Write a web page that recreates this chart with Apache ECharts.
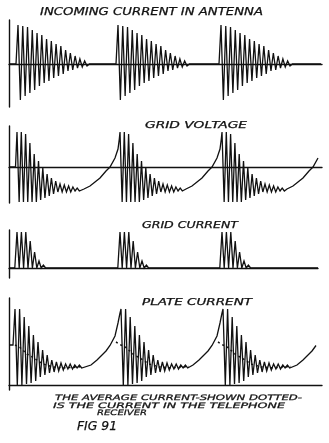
<!DOCTYPE html>
<html><head><meta charset="utf-8">
<script src="https://cdn.jsdelivr.net/npm/echarts@6/dist/echarts.min.js"></script>
<style>html,body{margin:0;padding:0;background:#fff}#c{width:329px;height:443px}</style>
</head><body><div id="c"></div>
<script>
// ---------------- DATA (time units along the horizontal axis, amplitude in drawing units) ----------------
// Incoming current in antenna: three damped wave trains
const antennaStarts = [9, 109, 212];
const antennaHalfPeriod = 2.38;
const antennaTops = [39, 38, 37, 34, 31, 29, 25, 23, 20, 18, 14, 11, 8, 5, 3];
const antennaBottoms = [-36, -32, -29, -26, -22, -19, -17, -14, -12, -10, -7, -6, -4, -3, -2];

// Grid voltage: oscillation drifting negative, then recovering (curve relative to next train start)
const gridVStarts = [8, 111, 213];
const gridVHalfPeriod = 2.15;
const gridVTops = [35, 35, 33, 24, 13, 6, -1, -7, -11, -14, -17, -18, -19, -20, -21];
const gridVBottoms = [-35, -35, -35, -35, -35, -33, -31, -29, -27, -25, -25, -25, -25, -24, -24];
const gridVRecovery = [[-36, -22], [-30, -19], [-20, -11], [-14, -4], [-10, 0], [-5, 9], [-2, 18], [-0.7, 28]];
const gridVLastGap = 101;
const gridVEnd = 309;

// Grid current: rectified pulses
const gridIStarts = [8, 111, 213];
const gridIHalfPeriod = 2.2;
const gridIPeaks = [36, 36, 36, 27, 16, 7, 3];

// Plate current
const plateSteady = 40;
const plateStarts = [6, 112, 214];
const plateHalfPeriod = 2.3;
const plateTops = [76, 76, 68, 59, 50, 43, 35, 30, 25, 23, 22, 21, 21, 20, 20];
const plateBottoms = [0, 0, 1, 2, 4, 8, 10, 12, 13, 14, 15, 16, 16, 17, 17];
const plateRecovery = [[-30, 20], [-24, 25], [-20, 29], [-15, 34], [-11, 39.5], [-6, 49], [-3, 62], [-1.2, 71]];
const plateAverage = [[-5, 43], [0, 40], [5, 37.5], [12, 31], [18, 27.5], [28, 21], [38, 18], [48, 17.3], [58, 17.5], [68, 18.5]];
const plateLastGap = 104;
const plateEnd = 309;

// Text
const titleAntenna = 'INCOMING CURRENT IN ANTENNA';
const titleGridV = 'GRID VOLTAGE';
const titleGridI = 'GRID CURRENT';
const titlePlate = 'PLATE CURRENT';
const captionLines = ['THE AVERAGE CURRENT-SHOWN DOTTED-', 'IS THE CURRENT IN THE TELEPHONE', 'RECEIVER'];
const figLabel = 'FIG 91';

// ---------------- BUILD ----------------
function zig(s, h, tops, bottoms) {
  const p = [];
  for (let i = 0; i < tops.length; i++) {
    p.push([s + 2 * h * i, tops[i]]);
    if (i < bottoms.length) p.push([s + h + 2 * h * i, bottoms[i]]);
  }
  return p;
}

// antenna
let ant = [[0, 0]];
antennaStarts.forEach(s => {
  ant.push([s - 2, 0]);
  ant = ant.concat(zig(s, antennaHalfPeriod, antennaTops, antennaBottoms));
  ant.push([s + 2 * antennaHalfPeriod * antennaTops.length, 0]);
});
ant.push([312, 0]);

// grid voltage
let gv = [[0, 0], [gridVStarts[0] - 1.5, 0]];
gridVStarts.forEach((s, k) => {
  gv = gv.concat(zig(s, gridVHalfPeriod, gridVTops, gridVBottoms));
  const N = k + 1 < gridVStarts.length ? gridVStarts[k + 1] : s + gridVLastGap;
  gridVRecovery.forEach(([dt, v]) => { if (N + dt <= gridVEnd) gv.push([N + dt, v]); });
});

// grid current
let gi = [[0, 0]];
gridIStarts.forEach(s => {
  const h = gridIHalfPeriod;
  gridIPeaks.forEach((p, i) => { gi.push([s - h + 2 * h * i, 0]); gi.push([s + 2 * h * i, p]); });
  gi.push([s + h + 2 * h * (gridIPeaks.length - 1), 0]);
});
gi.push([309, 0]);

// plate current
let pc = [[0, plateSteady], [plateStarts[0] - 2, plateSteady]];
plateStarts.forEach((s, k) => {
  pc = pc.concat(zig(s, plateHalfPeriod, plateTops, plateBottoms));
  const N = k + 1 < plateStarts.length ? plateStarts[k + 1] : s + plateLastGap;
  plateRecovery.forEach(([dt, v]) => { if (N + dt <= plateEnd) pc.push([N + dt, v]); });
});
const avgSeries = plateStarts.map((s, k) => ({
  type: 'line', xAxisIndex: 3, yAxisIndex: 3, symbol: 'none', animation: false, silent: true,
  data: plateAverage.filter(([dt]) => k > 0 || dt >= 0).map(([dt, v]) => [s + dt, v]),
  lineStyle: { color: '#111', width: 1.5, type: [2, 3] }
}));

// ---------------- CHART ----------------
const ink = '#111';
const LEFT = 9;
const grids = [
  { left: LEFT, top: 20, width: 313, height: 87 },
  { left: LEFT, top: 126, width: 313, height: 77 },
  { left: LEFT, top: 230, width: 309, height: 48 },
  { left: LEFT, top: 298, width: 313, height: 92 }
];
const xMax = [313, 313, 309, 313];
const yRange = [[-43, 44], [-36, 41], [-10, 38], [-5, 87]];
const axisCommon = {
  axisTick: { show: false }, axisLabel: { show: false }, splitLine: { show: false }
};
const xAxes = grids.map((g, i) => Object.assign({
  type: 'value', gridIndex: i, min: 0, max: xMax[i],
  axisLine: { show: true, onZero: true, lineStyle: { color: ink, width: 1.4 } }
}, axisCommon));
const yAxes = grids.map((g, i) => Object.assign({
  type: 'value', gridIndex: i, min: yRange[i][0], max: yRange[i][1],
  axisLine: { show: true, onZero: false, lineStyle: { color: ink, width: 1.4 } }
}, axisCommon));

function line(idx, data, w) {
  return { type: 'line', xAxisIndex: idx, yAxisIndex: idx, data, symbol: 'none', animation: false, silent: true,
    clip: false, lineStyle: { color: ink, width: w || 1.3, join: 'miter', miterLimit: 4 } };
}

const mctx = document.createElement('canvas').getContext('2d');
function label(text, x1, x2, cy, size) {
  const font = 'italic ' + size + 'px "DejaVu Sans"';
  mctx.font = font;
  const w = mctx.measureText(text).width;
  return { type: 'text', x: x1, y: cy, scaleX: (x2 - x1) / w, silent: true,
    style: { text, font, fill: '#111', align: 'left', verticalAlign: 'middle', stroke: '#111', lineWidth: 0.25 } };
}

const chart = echarts.init(document.getElementById('c'), null, { renderer: 'canvas' });
chart.setOption({
  backgroundColor: '#fff',
  animation: false,
  grid: grids,
  xAxis: xAxes,
  yAxis: yAxes,
  series: [line(0, ant), line(1, gv), line(2, gi), line(3, pc)].concat(avgSeries),
  graphic: [
    label(titleAntenna, 40, 263, 12, 10),
    label(titleGridV, 145, 247, 126, 8.5),
    label(titleGridI, 142, 238, 226, 8.5),
    label(titlePlate, 142, 252, 303, 8.5),
    label(captionLines[0], 55, 302, 398, 7.5),
    label(captionLines[1], 53, 285, 406, 7.5),
    label(captionLines[2], 97, 147, 413, 7.5),
    label(figLabel, 77, 117, 427, 13)
  ]
});
</script></body></html>
